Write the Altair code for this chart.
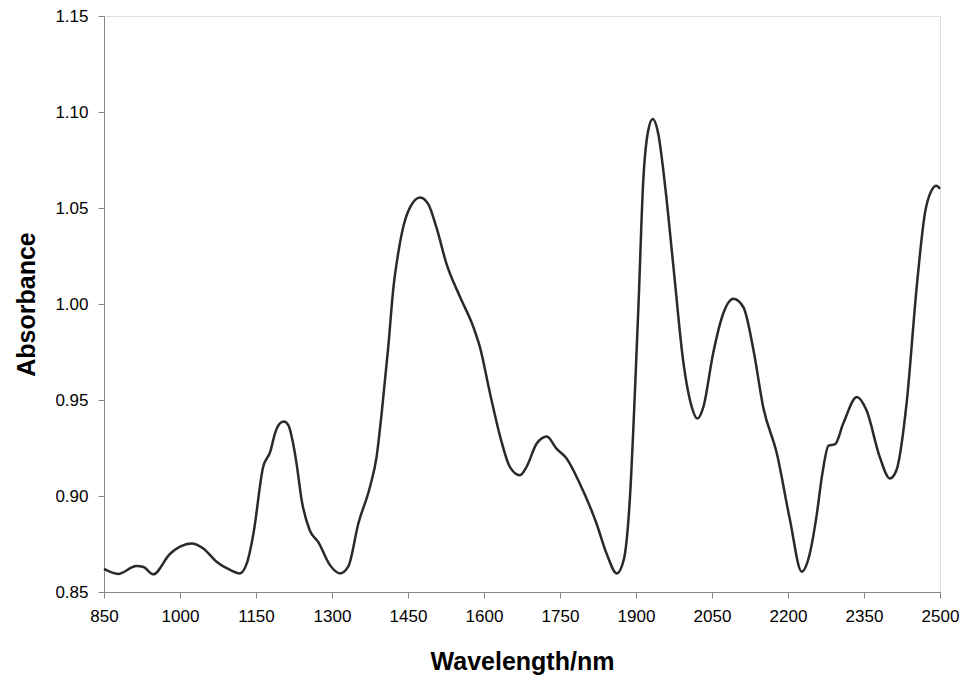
import altair as alt
import pandas as pd

wavelength = [850, 878, 914, 928, 947, 980, 1000, 1023, 1046, 1072, 1099, 1118, 1132, 1145,
              1164, 1178, 1188, 1196, 1205, 1214, 1222, 1230, 1240, 1256, 1273, 1296, 1316, 1332,
              1352, 1375, 1388, 1398, 1411, 1421, 1431, 1441, 1454, 1474, 1490, 1506, 1526,
              1553, 1579, 1592, 1612, 1632, 1651, 1671, 1684, 1704, 1724, 1743, 1763, 1789,
              1822, 1842, 1862, 1876, 1888, 1898, 1905, 1914, 1924, 1933, 1944, 1957, 1974,
              1993, 2010, 2021, 2033, 2052, 2072, 2092, 2112, 2132, 2151, 2178, 2204, 2227,
              2243, 2256, 2268, 2280, 2293, 2309, 2336, 2355, 2381, 2401, 2414, 2434, 2454, 2470,
              2483, 2493, 2500]
absorbance = [0.862, 0.8594, 0.8635, 0.863, 0.8592, 0.8698, 0.8736, 0.8753, 0.8727, 0.8658,
              0.8615, 0.8597, 0.865, 0.8805, 0.915, 0.923, 0.933, 0.9375, 0.9388, 0.9368, 0.929,
              0.917, 0.898, 0.8822, 0.876, 0.864, 0.8597, 0.8632, 0.8857, 0.9048, 0.9204,
              0.943, 0.9775, 1.008, 1.027, 1.0405, 1.0503, 1.0555, 1.052, 1.040, 1.0209,
              1.0035, 0.988, 0.9775, 0.9533, 0.9308, 0.9152, 0.9108, 0.9152, 0.9273, 0.931,
              0.9247, 0.9195, 0.9065, 0.8857, 0.870, 0.8597, 0.867, 0.899, 0.955, 1.000,
              1.0625, 1.0902, 1.0963, 1.0885, 1.0625, 1.0191, 0.9706, 0.9464, 0.9403, 0.9464,
              0.974, 0.9949, 1.0027, 0.9983, 0.9758, 0.9464, 0.9221, 0.8874, 0.8606, 0.870,
              0.889, 0.912, 0.9262, 0.927, 0.9377, 0.9516, 0.9446, 0.9204, 0.9091, 0.9134, 0.9481,
              1.0088, 1.0469, 1.059, 1.0616, 1.060]

x_ticks = [850, 1000, 1150, 1300, 1450, 1600, 1750, 1900, 2050, 2200, 2350, 2500]
y_ticks = [0.85, 0.90, 0.95, 1.00, 1.05, 1.10, 1.15]

df = pd.DataFrame({"wavelength": wavelength, "absorbance": absorbance})

FONT = "Liberation Sans"
AXIS_COLOR = "#868686"

chart = alt.Chart(df).mark_line(
    color="#2a2a2a", strokeWidth=2.5, interpolate="monotone"
).encode(
    x=alt.X("wavelength:Q",
            scale=alt.Scale(domain=[850, 2500], nice=False, zero=False),
            axis=alt.Axis(values=x_ticks, title="Wavelength/nm", grid=False,
                          format="d", labelFontSize=17, titleFontSize=25,
                          titleFontWeight="bold", labelPadding=10, titlePadding=25,
                          tickSize=6, domainColor=AXIS_COLOR, tickColor=AXIS_COLOR,
                          labelColor="#000000", titleColor="#000000",
                          labelFont=FONT, titleFont=FONT, labelFlush=False)),
    y=alt.Y("absorbance:Q",
            scale=alt.Scale(domain=[0.85, 1.15], nice=False, zero=False),
            axis=alt.Axis(values=y_ticks, title="Absorbance", grid=False,
                          format=".2f", labelFontSize=17, titleFontSize=25,
                          titleFontWeight="bold", labelPadding=10, titlePadding=15,
                          tickSize=6, domainColor=AXIS_COLOR, tickColor=AXIS_COLOR,
                          labelColor="#000000", titleColor="#000000",
                          labelFont=FONT, titleFont=FONT, labelFlush=False)),
).properties(
    width=836,
    height=576,
    autosize=alt.AutoSizeParams(type="none"),
    padding={"left": 96, "top": 8, "right": 21, "bottom": 87},
).configure_view(stroke=None).configure(background="white")

chart.save("out.html", embed_options={"renderer": "svg", "actions": False})
